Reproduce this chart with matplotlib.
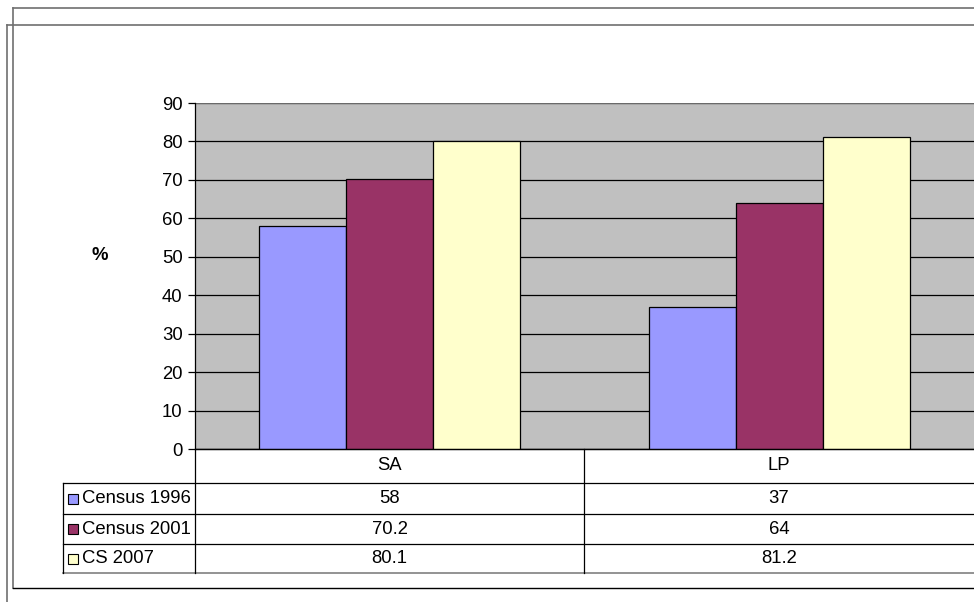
import matplotlib.pyplot as plt
from matplotlib.patches import Rectangle
from matplotlib.lines import Line2D
import numpy as np

# data
categories = ["SA", "LP"]
series_names = ["Census 1996", "Census 2001", "CS 2007"]
census_1996 = [58, 37]
census_2001 = [70.2, 64]
cs_2007 = [80.1, 81.2]
table_text = [["58", "37"], ["70.2", "64"], ["80.1", "81.2"]]
y_ticks = [0, 10, 20, 30, 40, 50, 60, 70, 80, 90]

colors = ["#9999FF", "#993366", "#FFFFCC"]
fs = 13.3

W, H = 974, 602
fig = plt.figure(figsize=(W / 100, H / 100), dpi=100)
plt.rcParams['font.family'] = ['Liberation Sans', 'DejaVu Sans']


def fx(px):
    return px / W


def fy(py):
    return 1 - py / H


# plot area
left, right, top, bottom = 195, 974, 103, 449
ax = fig.add_axes([fx(left), fy(bottom), fx(right - left), (bottom - top) / H])
ax.set_facecolor("#C0C0C0")

x = np.arange(len(categories))
bw = 0.223
for i, vals in enumerate([census_1996, census_2001, cs_2007]):
    ax.bar(x + (i - 1) * bw, vals, bw, color=colors[i], edgecolor="black",
           linewidth=0.9, zorder=3, label=series_names[i])

ax.set_xlim(-0.5, 1.5)
ax.set_ylim(0, 90)
ax.set_yticks(y_ticks)
ax.tick_params(axis="y", labelsize=fs, length=5, width=0.9, direction="out", pad=4)
ax.set_xticks([])
ax.yaxis.grid(True, color="black", linewidth=0.9, zorder=0)
ax.set_axisbelow(True)
for s in ["top", "right"]:
    ax.spines[s].set_visible(False)
ax.spines["left"].set_linewidth(0.9)
ax.spines["bottom"].set_linewidth(0.9)
ax.axhline(90, color="#808080", linewidth=1.2, zorder=1)

# y axis title
fig.text(fx(100), fy(256), "%", fontsize=fs, fontweight="bold",
         ha="center", va="center")

# data table below the plot
tab_left = 63
row_edges = [449, 483, 514, 544, 573]
col_edges = [tab_left, 195, 584, 974]
line_kw = dict(color="black", linewidth=0.9, transform=fig.transFigure)

# horizontal lines
fig.add_artist(Line2D([fx(195), fx(974)], [fy(row_edges[0])] * 2, **line_kw))
for r in row_edges[1:-1]:
    fig.add_artist(Line2D([fx(tab_left), fx(974)], [fy(r)] * 2, **line_kw))
fig.add_artist(Line2D([fx(tab_left), fx(974)], [fy(row_edges[-1])] * 2,
                      color="#808080", linewidth=1.2, transform=fig.transFigure))
# vertical lines
fig.add_artist(Line2D([fx(tab_left)] * 2, [fy(row_edges[1]), fy(row_edges[-1])], **line_kw))
fig.add_artist(Line2D([fx(195)] * 2, [fy(row_edges[0]), fy(row_edges[-1])], **line_kw))
fig.add_artist(Line2D([fx(584)] * 2, [fy(row_edges[0]), fy(row_edges[-1])], **line_kw))

# header row with category names
for j, cat in enumerate(categories):
    cx = (col_edges[j + 1] + col_edges[j + 2]) / 2
    cy = (row_edges[0] + row_edges[1]) / 2
    fig.text(fx(cx), fy(cy), cat, ha="center", va="center", fontsize=fs)

# series rows with swatches
for i, name in enumerate(series_names):
    cy = (row_edges[i + 1] + row_edges[i + 2]) / 2
    fig.add_artist(Rectangle((fx(68), fy(cy + 5)), 10 / W, 10 / H,
                             facecolor=colors[i], edgecolor="black", linewidth=0.8,
                             transform=fig.transFigure))
    fig.text(fx(82), fy(cy), name, ha="left", va="center", fontsize=fs)
    for j in range(len(categories)):
        cx = (col_edges[j + 1] + col_edges[j + 2]) / 2
        fig.text(fx(cx), fy(cy), table_text[i][j], ha="center", va="center", fontsize=fs)

# chart frames
frame_kw = dict(color="#707070", linewidth=1.2, transform=fig.transFigure)
fig.add_artist(Line2D([fx(13), fx(974)], [fy(8)] * 2, **frame_kw))
fig.add_artist(Line2D([fx(13)] * 2, [fy(8), fy(588)], **frame_kw))
fig.add_artist(Line2D([fx(13), fx(974)], [fy(588)] * 2, color="black", linewidth=1.0,
                      transform=fig.transFigure))
fig.add_artist(Line2D([fx(7), fx(974)], [fy(25)] * 2, **frame_kw))
fig.add_artist(Line2D([fx(7)] * 2, [fy(25), fy(602)], **frame_kw))

fig.savefig("out.png", dpi=100)
